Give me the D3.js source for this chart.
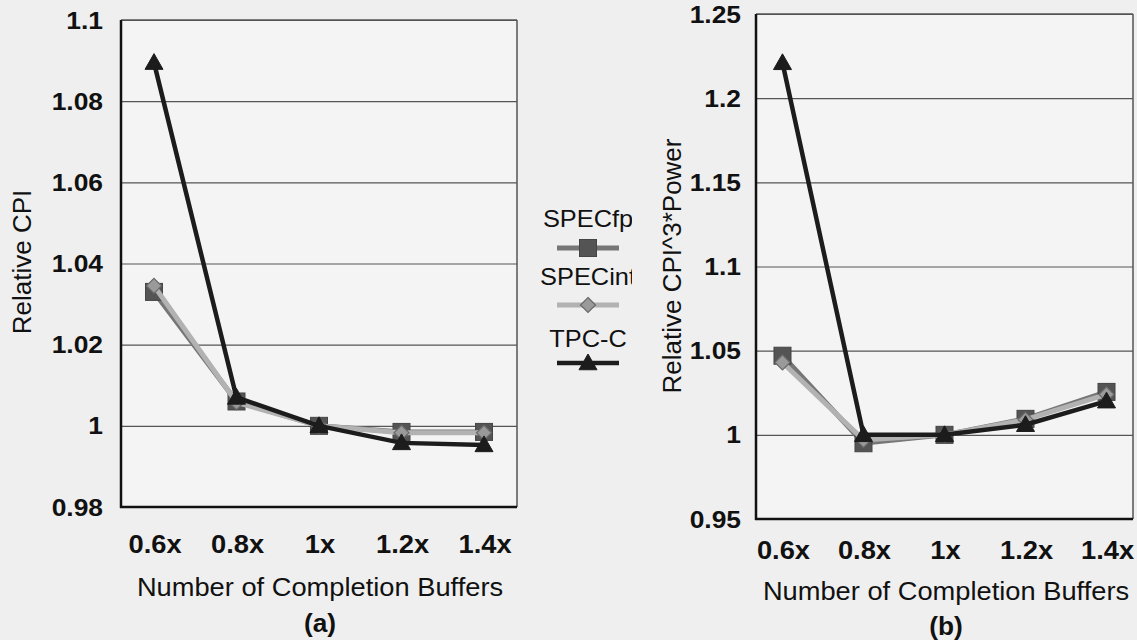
<!DOCTYPE html>
<html><head><meta charset="utf-8">
<script src="https://cdn.jsdelivr.net/npm/d3@7/dist/d3.min.js"></script>
<style>
html,body{margin:0;padding:0;background:#efefef;}
svg{display:block;font-family:"Liberation Sans",Arial,sans-serif;}
</style></head>
<body>
<svg id="chart" width="1137" height="640"></svg>
<script>
const categories = ["0.6x","0.8x","1x","1.2x","1.4x"];
const seriesNames = ["SPECfp","SPECint","TPC-C"];
// panel (a): Relative CPI
const cpiSPECfp  = [1.033, 1.006, 1.000, 0.9985, 0.9985];
const cpiSPECint = [1.0345, 1.0058, 1.000, 0.9983, 0.9983];
const cpiTPCC    = [1.0895, 1.007, 1.000, 0.9958, 0.9953];
const cpiTicks   = [0.98, 1.0, 1.02, 1.04, 1.06, 1.08, 1.1];
const cpiTickLabels = ["0.98","1","1.02","1.04","1.06","1.08","1.1"];
// panel (b): Relative CPI^3*Power
const powSPECfp  = [1.047, 0.995, 1.000, 1.0095, 1.0255];
const powSPECint = [1.043, 0.997, 1.000, 1.009, 1.024];
const powTPCC    = [1.221, 1.000, 1.000, 1.006, 1.020];
const powTicks   = [0.95, 1.0, 1.05, 1.1, 1.15, 1.2, 1.25];
const powTickLabels = ["0.95","1","1.05","1.1","1.15","1.2","1.25"];

const svg = d3.select("#chart");

const styles = {
  "SPECfp":  {line:"#767676", w:5,   marker:"square",   fill:"#545454", stroke:"#454545", size:17},
  "SPECint": {line:"#b2b2b2", w:5,   marker:"diamond",  fill:"#9a9a9a", stroke:"#6a6a6a", size:15},
  "TPC-C":   {line:"#1c1c1c", w:4.5, marker:"triangle", fill:"#1c1c1c", stroke:"#1c1c1c", size:18}
};

function sText(parent, x, y, str, size, weight, anchor, sx){
  return parent.append("text")
    .attr("transform",`translate(${x},${y}) scale(${sx},1)`)
    .attr("text-anchor",anchor).attr("font-size",size).attr("font-weight",weight)
    .attr("fill","#111").text(str);
}

function drawMarker(g, type, x, y, st){
  const s = st.size;
  if(type==="square"){
    g.append("rect").attr("x",x-s/2).attr("y",y-s/2).attr("width",s).attr("height",s)
      .attr("fill",st.fill).attr("stroke",st.stroke).attr("stroke-width",1);
  } else if(type==="diamond"){
    const h=s/2;
    g.append("path").attr("d",`M${x},${y-h}L${x+h},${y}L${x},${y+h}L${x-h},${y}Z`)
      .attr("fill",st.fill).attr("stroke",st.stroke).attr("stroke-width",1.2);
  } else {
    const h=s/2;
    g.append("path").attr("d",`M${x},${y-h}L${x+h},${y+h*0.75}L${x-h},${y+h*0.75}Z`)
      .attr("fill",st.fill).attr("stroke",st.stroke).attr("stroke-width",1);
  }
}

function panel(opt){
  const x = d3.scalePoint().domain(categories).range([opt.left, opt.right]).padding(opt.pad);
  const y = d3.scaleLinear().domain(opt.domain).range([opt.bottom, opt.top]);
  const g = svg.append("g");
  g.append("rect").attr("x",opt.left).attr("y",opt.top)
    .attr("width",opt.right-opt.left).attr("height",opt.bottom-opt.top).attr("fill","#f4f4f4");
  // gridlines
  const yAxis = d3.axisLeft(y).tickValues(opt.ticks).tickSize(-(opt.right-opt.left)).tickFormat("");
  const ga = g.append("g").attr("transform",`translate(${opt.left},0)`).call(yAxis);
  ga.select(".domain").remove();
  ga.selectAll(".tick line").attr("stroke","#555").attr("stroke-width",1.2);
  // y tick labels
  opt.ticks.forEach((t,i)=>{
    sText(g, opt.left-opt.ylabPad, y(t)+8.6, opt.tickLabels[i], 24, "bold", "end", 1.1);
  });
  // frame
  g.append("line").attr("x1",opt.left).attr("x2",opt.right).attr("y1",opt.top).attr("y2",opt.top).attr("stroke","#555").attr("stroke-width",1.5);
  g.append("line").attr("x1",opt.right).attr("x2",opt.right).attr("y1",opt.top).attr("y2",opt.bottom).attr("stroke","#555").attr("stroke-width",1.5);
  g.append("line").attr("x1",opt.left).attr("x2",opt.left).attr("y1",opt.top).attr("y2",opt.bottom+1).attr("stroke","#111").attr("stroke-width",2.5);
  g.append("line").attr("x1",opt.left-1).attr("x2",opt.right).attr("y1",opt.bottom).attr("y2",opt.bottom).attr("stroke","#111").attr("stroke-width",2.5);
  // x tick labels
  categories.forEach(c=>{
    sText(g, x(c)+1, opt.xlabY, c, 26, "bold", "middle", 1.05);
  });
  // series
  opt.series.forEach((vals,si)=>{
    const name = seriesNames[si], st = styles[name];
    const line = d3.line().x((d,i)=>x(categories[i])).y(d=>y(d));
    g.append("path").datum(vals).attr("d",line).attr("fill","none")
      .attr("stroke",st.line).attr("stroke-width",st.w).attr("stroke-linejoin","miter");
    vals.forEach((v,i)=>drawMarker(g, st.marker, x(categories[i]), y(v), st));
  });
  // titles
  sText(g, opt.titleX, opt.titleY, "Number of Completion Buffers", 25.5, "normal", "middle", 1.07);
  sText(g, opt.titleX, opt.subY, opt.sub, 25, "bold", "middle", 1.05);
  g.append("text").attr("transform",`translate(${opt.yTitleX},${opt.yTitleY}) rotate(-90)`)
    .attr("text-anchor","middle").attr("font-size",26).attr("fill","#111").text(opt.yTitle);
}

panel({left:121, right:517, top:20, bottom:507, pad:0.4, domain:[0.98,1.1],
  ticks:cpiTicks, tickLabels:cpiTickLabels, ylabPad:18, xlabY:553,
  series:[cpiSPECfp, cpiSPECint, cpiTPCC],
  titleX:320, titleY:596, subY:632, sub:"(a)", yTitle:"Relative CPI", yTitleX:31, yTitleY:262});

panel({left:756, right:1133, top:14, bottom:519, pad:0.327, domain:[0.95,1.25],
  ticks:powTicks, tickLabels:powTickLabels, ylabPad:15, xlabY:559,
  series:[powSPECfp, powSPECint, powTPCC],
  titleX:946, titleY:600, subY:635, sub:"(b)", yTitle:"Relative CPI^3*Power", yTitleX:681, yTitleY:266});

// legend
const defs = svg.append("defs");
defs.append("clipPath").attr("id","legclip").append("rect").attr("x",520).attr("y",180).attr("width",112).attr("height",200);
const leg = svg.append("g").attr("clip-path","url(#legclip)");
const legTextY = [227, 285, 347];
const legLineY = [248, 305, 363];
seriesNames.forEach((name,i)=>{
  const st = styles[name];
  sText(leg, 588, legTextY[i], name, 23.5, "normal", "middle", 1.08);
  leg.append("line").attr("x1",557).attr("x2",619).attr("y1",legLineY[i]).attr("y2",legLineY[i])
    .attr("stroke",st.line).attr("stroke-width",st.w);
  drawMarker(leg, st.marker, 588, legLineY[i], st);
});
</script>
</body></html>
